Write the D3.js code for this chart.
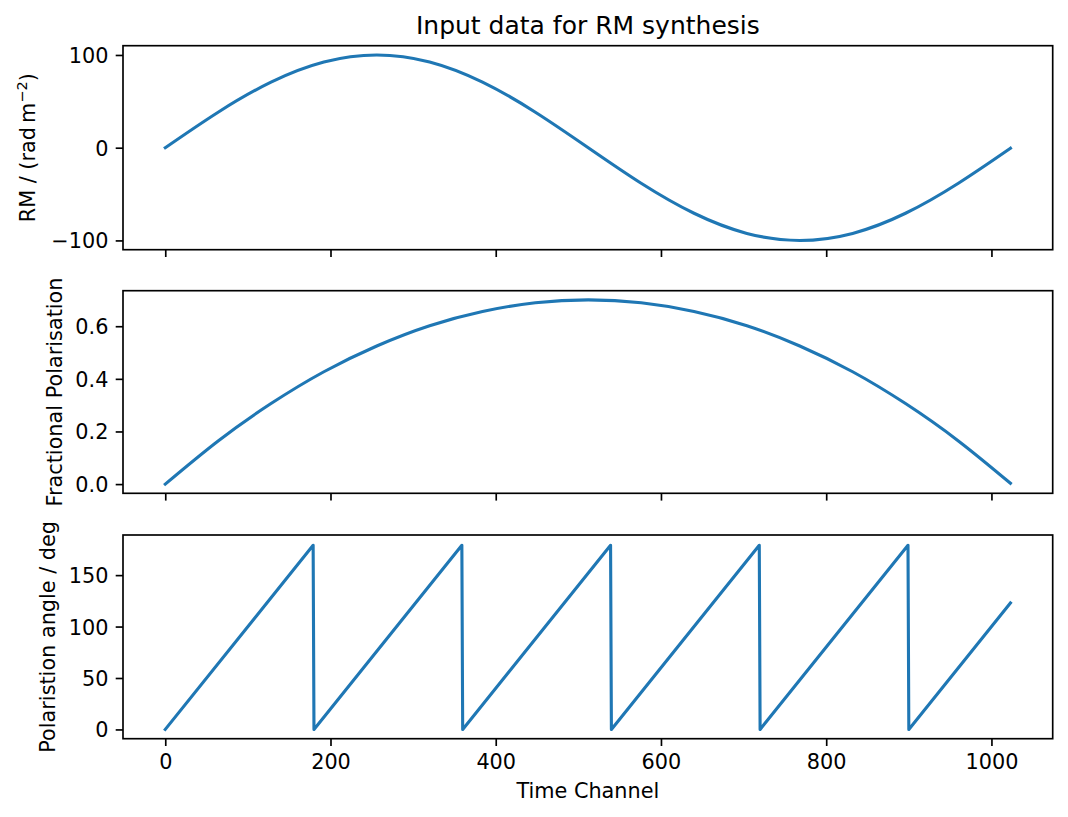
<!DOCTYPE html>
<html>
<head>
<meta charset="utf-8">
<script src="https://cdn.jsdelivr.net/npm/d3@7"></script>
<style>
  body { margin: 0; background: #fff; }
  text { font-family: "DejaVu Sans", sans-serif; fill: #000; }
</style>
</head>
<body>
<div id="chart"></div>
<script>
// values
const channels = [0, 64, 128, 192, 256, 320, 384, 448, 512, 576, 640, 704, 768, 832, 896, 960, 1023];
const rmValues = [0, 38.3, 70.7, 92.4, 100, 92.4, 70.7, 38.3, 0, -38.3, -70.7, -92.4, -100, -92.4, -70.7, -38.3, -0.6];
const fracPol = [0, 0.164, 0.306, 0.427, 0.525, 0.602, 0.656, 0.689, 0.700, 0.689, 0.656, 0.602, 0.525, 0.427, 0.306, 0.164, 0.003];
const angleChannels = [0, 179, 180, 359, 360, 539, 540, 719, 720, 899, 900, 1023];
const angleValues = [0, 179, 0, 179, 0, 179, 0, 179, 0, 179, 0, 123];

const xTicks = [0, 200, 400, 600, 800, 1000];
const rmTicks = [-100, 0, 100];
const polTicks = [0, 0.2, 0.4, 0.6];
const angleTicks = [0, 50, 100, 150];

const width = 1068;
const height = 817;
const left = 123;
const right = 1052.7;
const fontSize = 20.8;
const lineColor = '#1f77b4';

const svg = d3.select('#chart')
  .append('svg')
  .attr('width', width)
  .attr('height', height);

const x = d3.scaleLinear()
  .domain([-51.15, 1074.15])
  .range([left, right]);

const panels = [
  { top: 45.7, bottom: 249.7, domain: [-110, 110], ticks: rmTicks, fmt: d3.format('d'),
    xs: channels, ys: rmValues, curve: d3.curveNatural, labelX: 35 },
  { top: 290.7, bottom: 493.3, domain: [-0.035, 0.735], ticks: polTicks, fmt: d3.format('.1f'),
    xs: channels, ys: fracPol, curve: d3.curveNatural, labelX: 61.7, label: 'Fractional Polarisation' },
  { top: 535, bottom: 738.7, domain: [-9, 189], ticks: angleTicks, fmt: d3.format('d'),
    xs: angleChannels, ys: angleValues, curve: d3.curveLinear, labelX: 55.3, label: 'Polaristion angle / deg' }
];

panels.forEach((p, i) => {
  const y = d3.scaleLinear().domain(p.domain).range([p.bottom, p.top]);
  const g = svg.append('g');

  // line
  const line = d3.line()
    .x((d) => x(d[0]))
    .y((d) => y(d[1]))
    .curve(p.curve);
  g.append('path')
    .datum(p.xs.map((c, k) => [c, p.ys[k]]))
    .attr('d', line)
    .attr('fill', 'none')
    .attr('stroke', lineColor)
    .attr('stroke-width', 3.1)
    .attr('stroke-linejoin', 'round')
    .attr('stroke-linecap', 'square');

  // x axis (labels only on the bottom panel)
  const xAxis = g.append('g')
    .attr('transform', `translate(0,${p.bottom})`)
    .call(d3.axisBottom(x).tickValues(xTicks).tickSize(7.3).tickPadding(8.6)
      .tickFormat(i === 2 ? d3.format('d') : () => ''));
  xAxis.select('.domain').remove();
  xAxis.selectAll('line').attr('stroke', '#000').attr('stroke-width', 1.67);
  xAxis.selectAll('text').attr('font-size', fontSize).attr('fill', '#000')
    .attr('font-family', '"DejaVu Sans", sans-serif');

  // y axis
  const yAxis = g.append('g')
    .attr('transform', `translate(${left},0)`)
    .call(d3.axisLeft(y).tickValues(p.ticks).tickSize(7.3).tickPadding(7.3).tickFormat(p.fmt));
  yAxis.select('.domain').remove();
  yAxis.selectAll('line').attr('stroke', '#000').attr('stroke-width', 1.67);
  yAxis.selectAll('text').attr('font-size', fontSize).attr('fill', '#000')
    .attr('dy', '0.36em')
    .attr('font-family', '"DejaVu Sans", sans-serif');

  // frame
  g.append('rect')
    .attr('x', left)
    .attr('y', p.top)
    .attr('width', right - left)
    .attr('height', p.bottom - p.top)
    .attr('fill', 'none')
    .attr('stroke', '#000')
    .attr('stroke-width', 1.67);

  // y label
  const cy = (p.top + p.bottom) / 2;
  const lab = g.append('text')
    .attr('transform', `translate(${p.labelX},${cy}) rotate(-90)`)
    .attr('text-anchor', 'middle')
    .attr('font-size', fontSize);
  if (p.label) {
    lab.text(p.label);
  } else {
    lab.append('tspan').text('RM / (rad\u2009m');
    lab.append('tspan').attr('dy', -8).attr('font-size', fontSize * 0.7).text('\u22122');
    lab.append('tspan').attr('dy', 8).text(')');
  }
});

// title
svg.append('text')
  .attr('x', (left + right) / 2)
  .attr('y', 33.5)
  .attr('text-anchor', 'middle')
  .attr('font-size', 25)
  .text('Input data for RM synthesis');

// x label
svg.append('text')
  .attr('x', (left + right) / 2)
  .attr('y', 798)
  .attr('text-anchor', 'middle')
  .attr('font-size', fontSize)
  .text('Time Channel');
</script>
</body>
</html>
